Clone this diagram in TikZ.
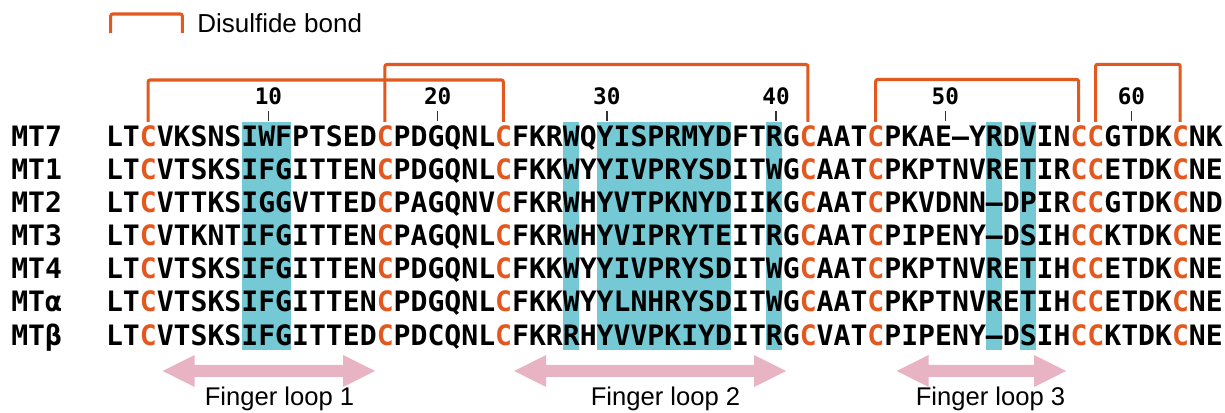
\documentclass[tikz,border=0pt]{standalone}
\usepackage{fontspec}
\setmainfont{Liberation Sans}
\newfontfamily\seqf{DejaVu Sans Mono}
\definecolor{bondc}{RGB}{226,88,30}
\definecolor{hlc}{RGB}{116,201,213}
\definecolor{loopc}{RGB}{232,180,196}
\definecolor{tickc}{RGB}{50,50,50}
\newcommand\oc{\textcolor{bondc}{C}}
\newcommand\gp{–}
\newcommand\cx[1]{(114.2+16.92*(#1-1))}
\newcommand\farrow[3]{%
  \fill[loopc] (#1,#3) -- (#1+32,#3-16) -- (#1+32,#3-6) -- (#2-32,#3-6) -- (#2-32,#3-16)
   -- (#2,#3) -- (#2-32,#3+16) -- (#2-32,#3+6) -- (#1+32,#3+6) -- (#1+32,#3+16) -- cycle;}
\tikzset{
  seq/.style={anchor=base west,inner sep=0pt,font=\seqf\bfseries\fontsize{21.08pt}{25pt}\selectfont},
  lab/.style={anchor=base west,inner sep=0pt,font=\seqf\bfseries\fontsize{21.08pt}{25pt}\selectfont},
  num/.style={anchor=base,inner sep=0pt,font=\seqf\bfseries\fontsize{17pt}{20pt}\selectfont},
  bond/.style={draw=bondc,line width=2.3pt,rounded corners=1.5pt},
  tick/.style={draw=tickc,line width=1.1pt},
  hl/.style={fill=hlc},
  looplab/.style={anchor=base,inner sep=0pt,font=\fontsize{19.2pt}{22pt}\selectfont},
}
\begin{document}
\begin{tikzpicture}[x=0.75pt,y=-0.75pt]
\useasboundingbox (0,0) rectangle (1225,413);
% highlights
\foreach \a/\b in {9/11,28/28,30/37,40/40,53/53,55/55}{
  \fill[hl] ({\cx{\a}-8.46+0.6},122) rectangle ({\cx{\b}+8.46-0.6},350);
}
% legend
\draw[bond] (110.7,33) -- (110.7,14) -- (182.3,14) -- (182.3,33);
\node[anchor=base west,inner sep=0pt,font=\fontsize{19.5pt}{23pt}\selectfont] (legend) at (197,33) {Disulfide bond};
% bond coordinates
\foreach \c in {3,17,24,42,46,58,59,64}{
  \coordinate (c\c) at ({\cx{\c}},122);
}
\draw[bond] (c3) -- ++(0,-42) -| (c24);
\draw[bond] (c17) -- ++(0,-57.5) -| (c42);
\draw[bond] (c46) -- ++(0,-42.5) -| (c58);
\draw[bond] (c59) -- ++(0,-57.7) -| (c64);
% numbers
\foreach \n/\c in {10/10,20/20,30/30,40/40,50/50,60/61}{
  \node[num] (n\n) at ({\cx{\c}+2},105) {\n};
  \draw[tick] ({\cx{\c}+2},111.5) -- ({\cx{\c}+2},121);
}
% rows
\node[lab] (l1) at (11,146.7) {MT7};
\node[seq] (s1) at (105.74,146.7) {LT\oc VKSNSIWFPTSED\oc PDGQNL\oc FKRWQYISPRMYDFTRG\oc AAT\oc PKAE\gp YRDVIN\oc\oc GTDK\oc NK};
\node[lab] (l2) at (11,179.75) {MT1};
\node[seq] (s2) at (105.74,179.75) {LT\oc VTSKSIFGITTEN\oc PDGQNL\oc FKKWYYIVPRYSDITWG\oc AAT\oc PKPTNVRETIR\oc\oc ETDK\oc NE};
\node[lab] (l3) at (11,212.8) {MT2};
\node[seq] (s3) at (105.74,212.8) {LT\oc VTTKSIGGVTTED\oc PAGQNV\oc FKRWHYVTPKNYDIIKG\oc AAT\oc PKVDNN\gp DPIR\oc\oc GTDK\oc ND};
\node[lab] (l4) at (11,245.85) {MT3};
\node[seq] (s4) at (105.74,245.85) {LT\oc VTKNTIFGITTEN\oc PAGQNL\oc FKRWHYVIPRYTEITRG\oc AAT\oc PIPENY\gp DSIH\oc\oc KTDK\oc NE};
\node[lab] (l5) at (11,278.9) {MT4};
\node[seq] (s5) at (105.74,278.9) {LT\oc VTSKSIFGITTEN\oc PDGQNL\oc FKKWYYIVPRYSDITWG\oc AAT\oc PKPTNVRETIH\oc\oc ETDK\oc NE};
\node[lab] (l6) at (11,311.95) {MTα};
\node[seq] (s6) at (105.74,311.95) {LT\oc VTSKSIFGITTEN\oc PDGQNL\oc FKKWYYLNHRYSDITWG\oc AAT\oc PKPTNVRETIH\oc\oc ETDK\oc NE};
\node[lab] (l7) at (11,345) {MTβ};
\node[seq] (s7) at (105.74,345) {LT\oc VTSKSIFGITTED\oc PDCQNL\oc FKRRHYVVPKIYDITRG\oc VAT\oc PIPENY\gp DSIH\oc\oc KTDK\oc NE};
% finger loops
\farrow{162.7}{375}{371}
\farrow{514}{786}{371}
\farrow{896.7}{1066}{371}
\node[looplab] (f1) at (279.5,405) {Finger loop 1};
\node[looplab] (f2) at (665.5,405) {Finger loop 2};
\node[looplab] (f3) at (990.5,405) {Finger loop 3};
\end{tikzpicture}
\end{document}
